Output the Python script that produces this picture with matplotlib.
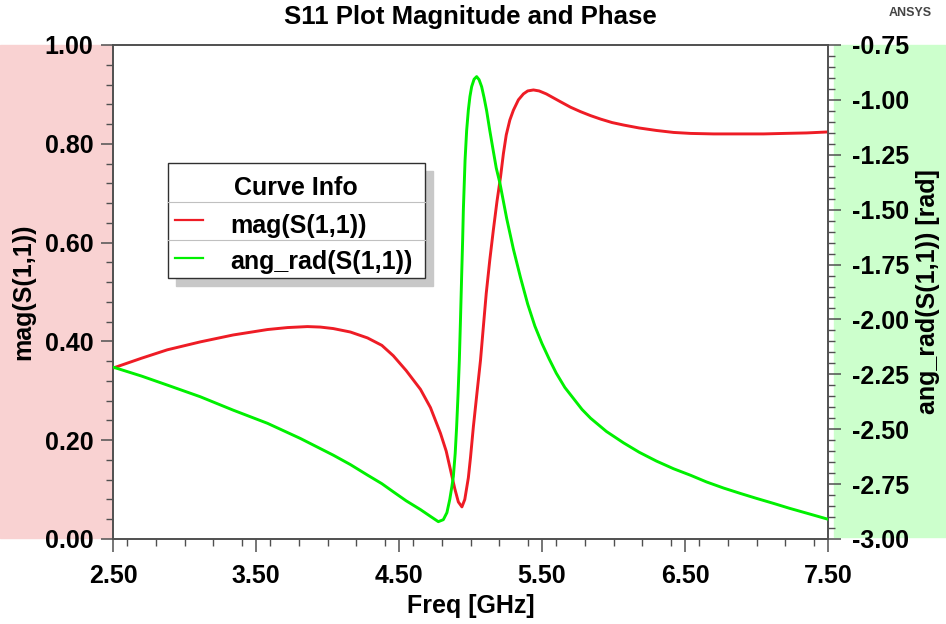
import matplotlib
matplotlib.use("Agg")
import matplotlib.pyplot as plt
from matplotlib.patches import Rectangle
from matplotlib.lines import Line2D
from matplotlib.ticker import MultipleLocator, FormatStrFormatter

plt.rcParams["font.family"] = ["Liberation Sans", "DejaVu Sans"]
plt.rcParams["font.weight"] = "bold"

# mag(S(1,1))
freq_mag = [2.50, 2.70, 2.88, 3.11, 3.34, 3.58, 3.72, 3.86, 3.95, 4.04, 4.16, 4.28, 4.38,
            4.46, 4.55, 4.65, 4.72, 4.79, 4.83, 4.86, 4.89, 4.915, 4.94, 4.96, 4.985, 5.00,
            5.02, 5.045, 5.07, 5.09, 5.11, 5.135, 5.16, 5.185, 5.21, 5.23, 5.25, 5.275,
            5.30, 5.335, 5.37, 5.40, 5.44, 5.48, 5.53, 5.58, 5.63, 5.70, 5.77, 5.84, 5.91,
            5.99, 6.07, 6.18, 6.30, 6.42, 6.54, 6.70, 6.89, 7.05, 7.19, 7.35, 7.50]
mag = [0.346, 0.366, 0.383, 0.399, 0.413, 0.424, 0.428, 0.430, 0.429, 0.426, 0.419, 0.407, 0.392,
       0.371, 0.341, 0.303, 0.266, 0.214, 0.178, 0.140, 0.102, 0.075, 0.065, 0.080, 0.124, 0.165,
       0.227, 0.295, 0.362, 0.430, 0.497, 0.565, 0.626, 0.683, 0.733, 0.780, 0.818, 0.848,
       0.868, 0.889, 0.901, 0.907, 0.909, 0.907, 0.901, 0.893, 0.885, 0.874, 0.865, 0.857, 0.850,
       0.843, 0.838, 0.832, 0.827, 0.823, 0.821, 0.820, 0.820, 0.820, 0.821, 0.822, 0.824]

# ang_rad(S(1,1))
freq_ang = [2.50, 2.70, 2.88, 3.11, 3.34, 3.58, 3.81, 4.04, 4.16, 4.28, 4.38, 4.46, 4.55,
            4.65, 4.72, 4.775, 4.81, 4.835, 4.855, 4.87, 4.88, 4.893, 4.903, 4.913, 4.922,
            4.930, 4.938, 4.945, 4.950, 4.962, 4.973, 4.985, 4.996, 5.008, 5.025, 5.043,
            5.06, 5.078, 5.095, 5.113, 5.135, 5.16, 5.18, 5.206, 5.253, 5.30, 5.35, 5.40,
            5.45, 5.50, 5.55, 5.60, 5.66, 5.72, 5.78, 5.84, 5.95, 6.07, 6.18, 6.30, 6.42,
            6.54, 6.65, 6.77, 6.89, 7.00, 7.12, 7.23, 7.36, 7.50]
ang = [-2.217, -2.258, -2.299, -2.352, -2.413, -2.473, -2.542, -2.618, -2.661, -2.709, -2.748, -2.785, -2.826,
       -2.866, -2.897, -2.921, -2.912, -2.880, -2.820, -2.760, -2.716, -2.610, -2.489, -2.340, -2.185,
       -2.000, -1.805, -1.640, -1.502, -1.274, -1.140, -1.046, -0.985, -0.940, -0.906, -0.894,
       -0.908, -0.940, -0.990, -1.050, -1.140, -1.235, -1.310, -1.380, -1.540, -1.680, -1.810, -1.930,
       -2.030, -2.110, -2.180, -2.245, -2.310, -2.360, -2.410, -2.450, -2.510, -2.562, -2.605, -2.645, -2.680,
       -2.710, -2.740, -2.768, -2.793, -2.815, -2.838, -2.860, -2.884, -2.910]

x_ticks = [2.5, 3.5, 4.5, 5.5, 6.5, 7.5]

RED = "#ee1c25"
GREEN = "#00f000"
AXC = "#505050"
W, H = 946, 624
FS = 18


def fx(px):
    return px / W


def fy(py):
    return 1 - py / H


fig = plt.figure(figsize=(W / 100, H / 100), dpi=100)

# side bands behind everything
fig.patches.append(Rectangle((fx(0), fy(538)), fx(112), (538 - 45) / H,
                             transform=fig.transFigure, color="#f9d2d2", zorder=-10))
fig.patches.append(Rectangle((fx(834), fy(537)), fx(946 - 834), (537 - 45) / H,
                             transform=fig.transFigure, color="#ccffcc", zorder=-10))

ax = fig.add_axes([fx(113), fy(539), (828 - 113) / W, (539 - 45) / H])
ax2 = ax.twinx()

ax.plot(freq_mag, mag, color=RED, lw=2.1, zorder=3)
ax2.plot(freq_ang, ang, color=GREEN, lw=2.1, zorder=3)

ax.set_xlim(2.5, 7.5)
ax.set_ylim(0, 1)
ax2.set_ylim(-3.0, -0.75)

ax.set_xticks(x_ticks)
ax.xaxis.set_minor_locator(MultipleLocator(0.2))
ax.yaxis.set_major_locator(MultipleLocator(0.2))
ax.yaxis.set_minor_locator(MultipleLocator(0.04))
ax2.yaxis.set_major_locator(MultipleLocator(0.25))
ax2.yaxis.set_minor_locator(MultipleLocator(0.05))
ax.xaxis.set_major_formatter(FormatStrFormatter("%.2f"))
ax.yaxis.set_major_formatter(FormatStrFormatter("%.2f"))
ax2.yaxis.set_major_formatter(FormatStrFormatter("%.2f"))

for a in (ax, ax2):
    a.tick_params(which="major", direction="out", length=9, width=1.1, color=AXC,
                  labelsize=FS)
    a.tick_params(which="minor", direction="out", length=5, width=1.0, color=AXC)
    for s in a.spines.values():
        s.set_color(AXC)
        s.set_linewidth(1.2)
ax.tick_params(axis="y", pad=5)
ax2.tick_params(axis="y", pad=8)
ax.tick_params(axis="x", pad=9)

ax.set_xlabel("Freq [GHz]", fontsize=FS, fontweight="bold", labelpad=4)
ax.set_ylabel("mag(S(1,1))", fontsize=FS, fontweight="bold", labelpad=7)
ax2.set_ylabel("ang_rad(S(1,1)) [rad]", fontsize=FS, fontweight="bold", labelpad=5)

fig.text(0.497, fy(17), "S11 Plot Magnitude and Phase", ha="center", va="center",
         fontsize=18.5, fontweight="bold")
fig.text(fx(889), fy(13), "ANSYS", ha="left", va="center", fontsize=9,
         fontweight="bold", color="#444444")

# legend box ("Curve Info")
L, T, R, B = 168, 163, 425, 278
fig.patches.append(Rectangle((fx(L + 8), fy(B + 8)), (R - L) / W, (B - T) / H,
                             transform=fig.transFigure, color="#c8c8c8", zorder=5))
fig.patches.append(Rectangle((fx(L), fy(B)), (R - L) / W, (B - T) / H,
                             transform=fig.transFigure, facecolor="white",
                             edgecolor="#303030", lw=1.0, zorder=6))
for yy in (202, 240):
    fig.lines.append(Line2D([fx(L), fx(R)], [fy(yy), fy(yy)], transform=fig.transFigure,
                            color="#c0c0c0", lw=0.8, zorder=7))
fig.text(fx(296), fy(188), "Curve Info", ha="center", va="center", fontsize=18,
         fontweight="bold", zorder=8)
fig.lines.append(Line2D([fx(175), fx(203)], [fy(220), fy(220)], transform=fig.transFigure,
                        color=RED, lw=1.6, zorder=8))
fig.lines.append(Line2D([fx(175), fx(203)], [fy(258), fy(258)], transform=fig.transFigure,
                        color=GREEN, lw=1.6, zorder=8))
fig.text(fx(230), fy(226), "mag(S(1,1))", ha="left", va="center", fontsize=18,
         fontweight="bold", zorder=8)
fig.text(fx(230), fy(262), "ang_rad(S(1,1))", ha="left", va="center", fontsize=18,
         fontweight="bold", zorder=8)

fig.savefig("out.png", dpi=100)
